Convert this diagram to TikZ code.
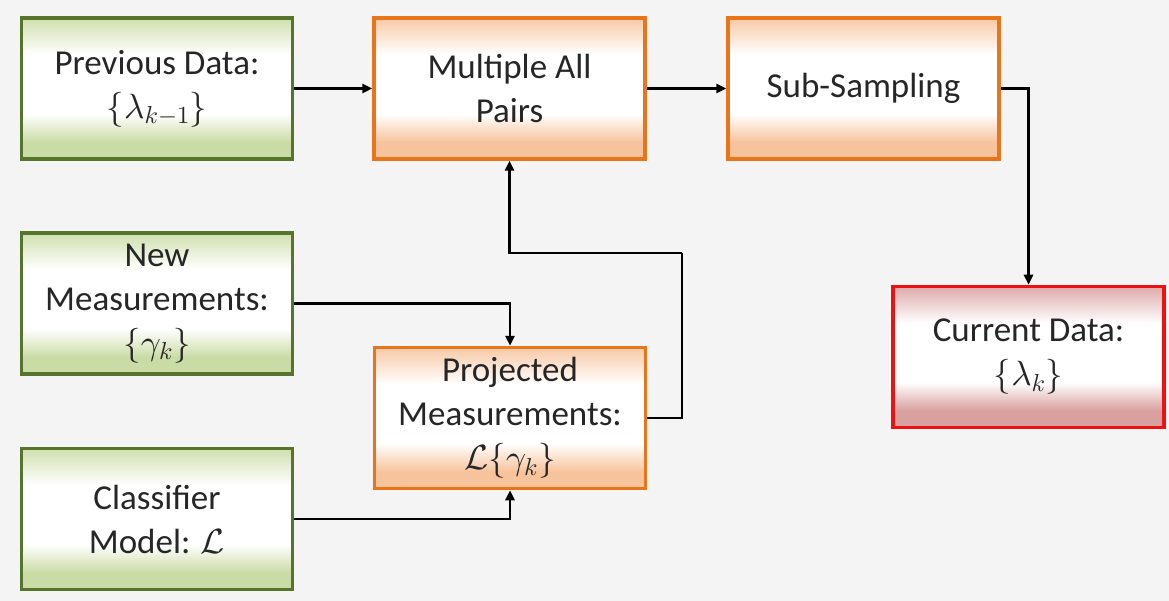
\documentclass[tikz,border=0pt]{standalone}
\usepackage{fontspec}
\setmainfont{Carlito}
\usetikzlibrary{arrows.meta}

% let the Computer Modern math fonts scale to any size
\DeclareFontShape{OT1}{cmr}{m}{n}{<->cmr10}{}
\DeclareFontShape{OML}{cmm}{m}{it}{<->cmmi10}{}
\DeclareFontShape{OMS}{cmsy}{m}{n}{<->cmsy10}{}
\DeclareFontShape{OMX}{cmex}{m}{n}{<->cmex10}{}

\definecolor{greenline}{HTML}{56742B}
\definecolor{greenfill}{HTML}{CADCA5}
\definecolor{orangeline}{HTML}{E8751A}
\definecolor{orangefill}{HTML}{F7C39C}
\definecolor{redline}{HTML}{EE1111}
\definecolor{redfill}{HTML}{D9A0A0}
\definecolor{pagebg}{HTML}{F4F4F4}

% colour band at top and bottom, white in the middle
\pgfdeclareverticalshading{greenband}{100bp}{color(0bp)=(greenfill); color(25bp)=(greenfill); color(31bp)=(greenfill); color(41bp)=(white); color(62bp)=(white); color(75bp)=(greenfill!90!white); color(100bp)=(greenfill!90!white)}
\pgfdeclareverticalshading{orangeband}{100bp}{color(0bp)=(orangefill); color(25bp)=(orangefill); color(31bp)=(orangefill); color(41bp)=(white); color(62bp)=(white); color(75bp)=(orangefill!90!white); color(100bp)=(orangefill!90!white)}
\pgfdeclareverticalshading{redband}{100bp}{color(0bp)=(redfill); color(25bp)=(redfill); color(31bp)=(redfill); color(41bp)=(white); color(62bp)=(white); color(75bp)=(redfill!90!white); color(100bp)=(redfill!90!white)}

\begin{document}
\begin{tikzpicture}[x=1pt,y=-1pt,
  box/.style={rectangle, line width=3.5pt, minimum width=271pt, minimum height=141pt,
    align=center, inner sep=2pt, text=black!85,
    font=\fontsize{35}{44}\selectfont},
  inbox/.style={box, draw=greenline, shading=greenband},
  opbox/.style={box, draw=orangeline, shading=orangeband},
  outbox/.style={box, draw=redline, shading=redband},
  link/.style={line width=2.5pt, draw=black, -{Triangle[length=10pt,width=9pt]}},
  plain/.style={line width=2.5pt, draw=black}]

\useasboundingbox (0,0) rectangle (1169,601);
\fill[pagebg] (0,0) rectangle (1169,601);

% input blocks
\node[inbox] (prev) at (157,88.5) {Previous Data:\\$\{\lambda_{k-1}\}$};
\node[inbox] (newm) at (157,303.5) {New\\Measurements:\\$\{\gamma_k\}$};
\node[inbox] (cls)  at (157,519) {Classifier\\Model: $\mathcal{L}$};

% processing blocks
\node[opbox] (multi) at (509.5,88.5) {Multiple All\\Pairs};
\node[opbox] (sub)   at (863.5,88.5) {Sub-Sampling};
\node[opbox] (proj)  at (510,418) {Projected\\Measurements:\\$\mathcal{L}\{\gamma_k\}$};

% output block
\node[outbox] (cur) at (1028.5,357) {Current Data:\\$\{\lambda_k\}$};

\coordinate (turn) at (682,253);

% connectors
\draw[link] (prev.east) -- (multi.west);
\draw[link] (multi.east) -- (sub.west);
\draw[link] (sub.east) -| (cur.north);
\draw[link] (newm.east) -| (proj.north);
\draw[link] (cls.east) -| (proj.south);
\draw[plain] (proj.east) -| (turn);
\draw[link] (turn) -| (multi.south);
\end{tikzpicture}
\end{document}
